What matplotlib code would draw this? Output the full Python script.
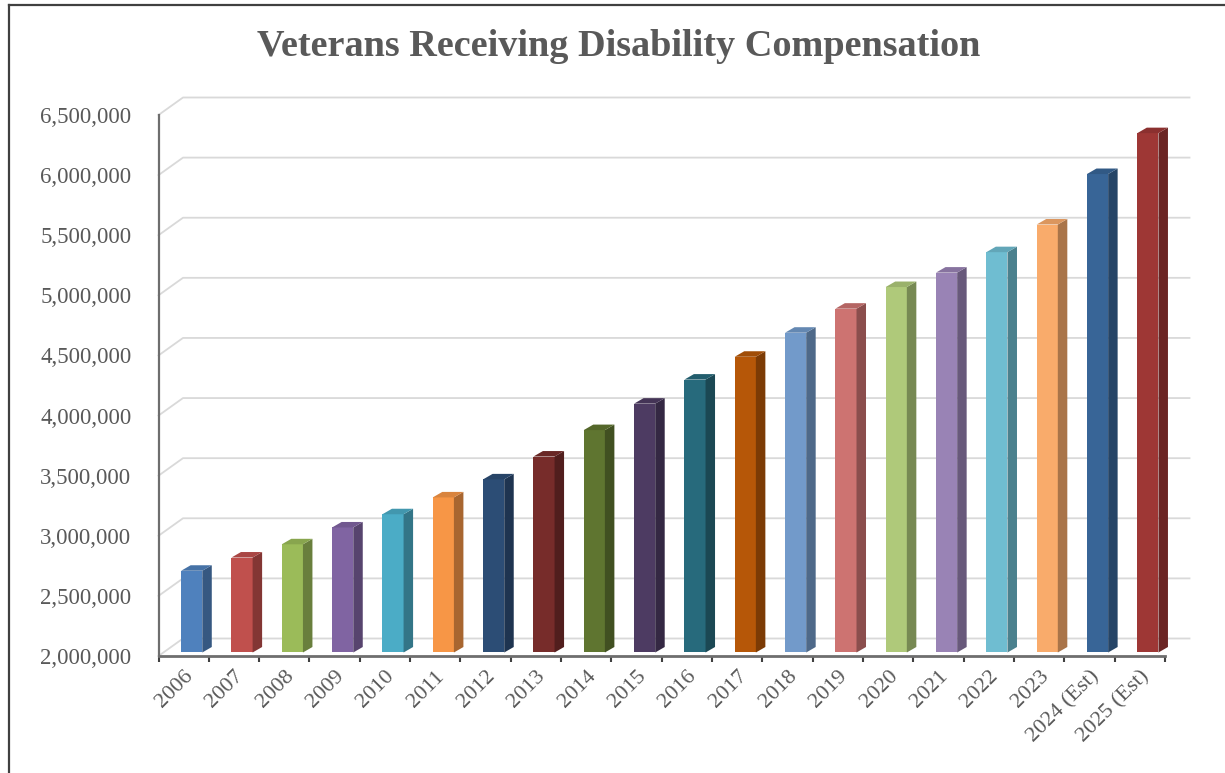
import matplotlib
matplotlib.use("Agg")
import matplotlib.pyplot as plt
import numpy as np
from matplotlib.patches import Polygon
from matplotlib.lines import Line2D
from matplotlib.ticker import FuncFormatter
import matplotlib.colors as mcolors

# ---------------- data ----------------
categories = ["2006", "2007", "2008", "2009", "2010", "2011", "2012", "2013", "2014",
              "2015", "2016", "2017", "2018", "2019", "2020", "2021", "2022", "2023",
              "2024 (Est)", "2025 (Est)"]
veterans = [2680000, 2790000, 2900000, 3040000, 3150000, 3290000, 3440000, 3630000,
            3850000, 4070000, 4270000, 4460000, 4660000, 4860000, 5040000, 5160000,
            5330000, 5560000, 5980000, 6320000]
bar_colors = ["#4F81BD", "#C0504D", "#9BBB59", "#8064A2", "#4BACC6", "#F79646",
              "#2C4D75", "#772C2A", "#5F7530", "#4D3B62", "#276A7C", "#B65708",
              "#729ACA", "#CD7371", "#AFC97A", "#9983B5", "#6FBDD1", "#F9AB6B",
              "#386597", "#9E3735"]
y_ticks = [2000000, 2500000, 3000000, 3500000, 4000000, 4500000, 5000000,
           5500000, 6000000, 6500000]
title = "Veterans Receiving Disability Compensation"

TEXT = "#595959"
SERIF = ["Liberation Serif", "DejaVu Serif"]

W, H = 1225, 773
fig = plt.figure(figsize=(W / 100, H / 100), dpi=100)

# axes = front plane of the 3-D box (pixel geometry)
x0, x1 = 158.5, 1165.0
yb, yt = 656.0, 115.0
ax = fig.add_axes([x0 / W, (H - yb) / H, (x1 - x0) / W, (yb - yt) / H])
ax.set_xlim(-0.5, len(categories) - 0.5)
ax.set_ylim(y_ticks[0], y_ticks[-1])
ax.set_facecolor("none")

# pixel -> data conversions via the axes transform
p00 = ax.transData.transform((0, y_ticks[0]))
px_per_x = ax.transData.transform((1, y_ticks[0]))[0] - p00[0]
px_per_y = ax.transData.transform((0, y_ticks[0] + 1.0))[1] - p00[1]

def dx(px):
    return px / px_per_x

def dy(px):
    return px / px_per_y

# back-wall gridlines
Dx, Dy = dx(24.5), dy(17.5)
xmin, xmax = ax.get_xlim()
for v in y_ticks:
    ax.add_line(Line2D([xmin, xmin + Dx, xmax + Dx], [v, v + Dy, v + Dy],
                       color="#D9D9D9", lw=1.3, zorder=1, clip_on=False))

# bars (front, side, top faces)
base = y_ticks[0]
shift = dy(3.5)
bw = 0.42
bdx, bdy = dx(9.5), dy(5.5)
xs = np.arange(len(categories))
for i, (v, c) in enumerate(zip(veterans, bar_colors)):
    rgb = np.array(mcolors.to_rgb(c))
    side = tuple(rgb * 0.68)
    topc = tuple(rgb * 0.88)
    left = xs[i] - 0.5 + 0.45
    right = left + bw
    b = base + shift
    t = v + shift
    ax.add_patch(Polygon([(left, b), (right, b), (right, t), (left, t)], closed=True,
                         facecolor=c, edgecolor="none", zorder=3, clip_on=False))
    ax.add_patch(Polygon([(right, b), (right + bdx, b + bdy), (right + bdx, t + bdy), (right, t)],
                         closed=True, facecolor=side, edgecolor="none", zorder=3, clip_on=False))
    ax.add_patch(Polygon([(left, t), (right, t), (right + bdx, t + bdy), (left + bdx, t + bdy)],
                         closed=True, facecolor=topc, edgecolor="none", zorder=3, clip_on=False))

# axes styling
for s in ["top", "right"]:
    ax.spines[s].set_visible(False)
ax.spines["left"].set_color("#6E6E6E")
ax.spines["left"].set_linewidth(1.6)
ax.spines["bottom"].set_color("#6E6E6E")
ax.spines["bottom"].set_linewidth(2.0)
ax.spines["left"].set_zorder(4)
ax.spines["bottom"].set_zorder(4)

ax.set_yticks(y_ticks)
ax.yaxis.set_major_formatter(FuncFormatter(lambda v, p: f"{int(v):,}"))
ax.tick_params(axis="y", length=0, pad=19.5, labelsize=16.5, labelcolor=TEXT)

ax.set_xticks(xs)
ax.set_xticklabels(categories, rotation=45, ha="right", rotation_mode="anchor")
ax.set_xticks(np.arange(len(categories) + 1) - 0.5, minor=True)
ax.tick_params(axis="x", which="major", length=0, pad=8, labelsize=16, labelcolor=TEXT)
ax.tick_params(axis="x", which="minor", length=4, width=1.5, color="#404040", direction="out")
for lab in ax.get_xticklabels() + ax.get_yticklabels():
    lab.set_family(SERIF)

# title
fig.text(618.5 / W, 1 - 56 / H, title, ha="center", va="baseline",
         fontsize=27.5, fontweight="bold", color=TEXT, family=SERIF)

# outer frame (left and top edges visible)
fig.add_artist(Line2D([8.5 / W, 8.5 / W], [0, 1 - 4.5 / H], color="#404040", lw=1.6,
                      transform=fig.transFigure))
fig.add_artist(Line2D([8.5 / W, 1], [1 - 4.5 / H, 1 - 4.5 / H], color="#404040", lw=1.6,
                      transform=fig.transFigure))

fig.savefig("out.png", dpi=100, facecolor="white")
